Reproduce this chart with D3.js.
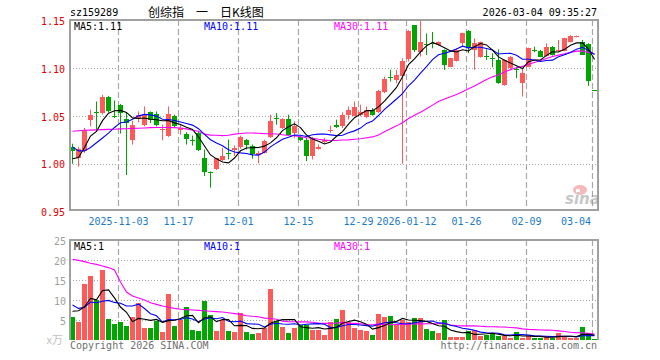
<!DOCTYPE html>
<html>
<head>
<meta charset="utf-8">
<script src="https://cdn.jsdelivr.net/npm/d3@7/dist/d3.min.js"></script>
<style>
body { margin: 0; background: #fff; }
svg text { font-family: "DejaVu Sans Mono", "Liberation Mono", monospace; font-size: 10px; }
</style>
</head>
<body>
<svg id="chart" width="660" height="360"></svg>
<script>

// trading days shown on the chart
var dates = [
  '2025-10-22','2025-10-23','2025-10-24','2025-10-27','2025-10-28','2025-10-29','2025-10-30','2025-10-31',
  '2025-11-03','2025-11-04','2025-11-05','2025-11-06','2025-11-07','2025-11-10','2025-11-11','2025-11-12',
  '2025-11-13','2025-11-14','2025-11-17','2025-11-18','2025-11-19','2025-11-20','2025-11-21','2025-11-24',
  '2025-11-25','2025-11-26','2025-11-27','2025-11-28','2025-12-01','2025-12-02','2025-12-03','2025-12-04',
  '2025-12-05','2025-12-08','2025-12-09','2025-12-10','2025-12-11','2025-12-12','2025-12-15','2025-12-16',
  '2025-12-17','2025-12-18','2025-12-19','2025-12-22','2025-12-23','2025-12-24','2025-12-25','2025-12-26',
  '2025-12-29','2025-12-30','2025-12-31','2026-01-05','2026-01-06','2026-01-07','2026-01-08','2026-01-09',
  '2026-01-12','2026-01-13','2026-01-14','2026-01-15','2026-01-16','2026-01-19','2026-01-20','2026-01-21',
  '2026-01-22','2026-01-23','2026-01-26','2026-01-27','2026-01-28','2026-01-29','2026-01-30','2026-02-02',
  '2026-02-03','2026-02-04','2026-02-05','2026-02-06','2026-02-09','2026-02-10','2026-02-11','2026-02-12',
  '2026-02-13','2026-02-24','2026-02-25','2026-02-26','2026-02-27','2026-03-02','2026-03-03','2026-03-04'
];

var opens = [
  1.018,1.0056,1.0132,1.0462,1.0538,1.0531,1.0697,1.0496,1.0618,1.0468,
  1.0253,1.0468,1.0409,1.0541,1.0524,1.0354,1.0288,1.0503,1.035,1.0316,
  1.0253,1.0323,1.0056,0.9913,0.9948,1.0038,1.0108,1.0149,1.0177,1.0253,
  1.0191,1.0087,1.0115,1.0281,1.0475,1.0375,1.0472,1.0323,1.0281,1.0253,
  1.008,1.0156,1.0226,1.034,1.0409,1.0392,1.0514,1.0503,1.0513,1.0489,
  1.0566,1.054,1.0756,1.091,1.0878,1.0923,1.1094,1.145,1.1174,1.1251,
  1.1268,1.1244,1.1191,1.1017,1.108,1.1268,1.1393,1.1191,1.1122,1.1126,
  1.1108,1.1087,1.0826,1.100,1.099,1.085,1.1017,1.1188,1.1184,1.1129,
  1.1226,1.1188,1.1184,1.1278,1.133,1.1278,1.1254,1.077
];
var highs = [
  1.021,1.0177,1.0375,1.0566,1.0652,1.0722,1.0711,1.0663,1.0625,1.0531,
  1.0451,1.0548,1.060,1.0548,1.0548,1.0409,1.060,1.0514,1.0409,1.033,
  1.0295,1.034,1.0149,0.992,1.0062,1.0167,1.0253,1.0191,1.0295,1.026,
  1.0201,1.0132,1.0253,1.0514,1.0531,1.0479,1.0514,1.0444,1.0295,1.0271,
  1.0281,1.0201,1.0271,1.0399,1.0462,1.0538,1.060,1.0652,1.0618,1.06,
  1.0583,1.0774,1.0913,1.0983,1.0983,1.1104,1.140,1.1452,1.150,1.1365,
  1.138,1.128,1.1198,1.1111,1.1209,1.1372,1.140,1.1313,1.128,1.1198,
  1.1157,1.1198,1.1094,1.1129,1.1017,1.100,1.1216,1.1226,1.1191,1.1261,
  1.1233,1.1296,1.132,1.1348,1.1341,1.1296,1.1261,1.077
];
var lows = [
  1.000,0.9969,1.0115,1.0392,1.034,1.0514,1.0538,1.0479,1.0316,0.9882,
  1.0201,1.0434,1.0392,1.0427,1.0392,1.0246,1.0281,1.0375,1.0305,1.0201,
  1.0191,1.0132,0.9872,0.975,0.9934,1.0028,1.0045,1.008,1.0156,1.0149,
  1.0052,1.0003,1.0108,1.0271,1.0409,1.0364,1.0295,1.0271,1.0236,1.0028,
  1.0045,1.0149,1.0212,1.0323,1.0375,1.0375,1.0462,1.0496,1.0496,1.0479,
  1.0503,1.053,1.0739,1.0861,1.0843,1.000,1.107,1.117,1.1122,1.1139,
  1.121,1.1236,1.0983,1.101,1.107,1.1226,1.1157,1.0983,1.111,1.1087,
  1.101,1.0836,1.0816,1.099,1.0896,1.0704,1.101,1.1167,1.1115,1.1122,
  1.1132,1.1174,1.1177,1.1271,1.1324,1.1163,1.0816,1.0763
];
var closes = [
  1.0133,1.0156,1.0357,1.0514,1.0531,1.0697,1.0548,1.0486,1.0531,1.0427,
  1.0409,1.0514,1.0514,1.0462,1.0402,1.0361,1.0524,1.0392,1.0375,1.026,
  1.0243,1.0142,0.9913,0.9903,1.0056,1.008,1.0097,1.0163,1.0281,1.0201,
  1.0097,1.0108,1.0236,1.0451,1.0468,1.0472,1.0305,1.0392,1.0253,1.008,
  1.0271,1.0177,1.0253,1.0357,1.0382,1.0514,1.0566,1.059,1.0545,1.0566,
  1.0514,1.0763,1.0889,1.090,1.093,1.1077,1.1393,1.1188,1.1271,1.1244,
  1.1255,1.127,1.1035,1.1104,1.1191,1.1365,1.1209,1.1261,1.1271,1.1115,
  1.1098,1.085,1.1087,1.1122,1.0979,1.0948,1.1209,1.1177,1.1122,1.1219,
  1.1139,1.1195,1.1313,1.1341,1.1338,1.114,1.0871,1.0765
];

// volume, x万
var volumes = [
  5.75,4.5,13.9,16,10,17.5,5.2,4,4.5,3.5,
  5.75,9.25,3,3,4.75,2,11.5,3.5,5,8.25,
  2.5,2.25,9.75,6.25,2.25,5,2.25,2,6.75,2,
  1.5,1.75,3,12.75,4.75,3.25,1.75,3,3.75,3.75,
  2.5,2.5,1.25,4.5,5.25,7.5,4.6,3,2.5,2.25,
  1.25,6.5,5.75,6,3.75,5,4.5,5.5,5.5,2.75,
  2.25,1.75,5,0.75,0.75,0.75,2.25,2.5,1,1.25,
  1.5,1,1,0.5,2,0.5,1,0.5,0.5,1,
  0.5,1.75,1,0.5,0.5,3.25,1.75,0.25
];

// moving-average values before enough days are on the chart
var ma5Lead = [1.0052,1.0065,1.017,1.029];
var ma10Lead = [1.0177,1.0135,1.0135,1.017,1.022,1.027,1.032,1.038,1.043];
var ma30Lead = [1.0340,1.0345,1.0350,1.0352,1.0355,1.0357,1.0360,1.0362,1.0365,1.0367,
  1.0370,1.0372,1.0375,1.0378,1.0380,1.0380,1.0380,1.0378,1.0375,1.0365,
  1.0350,1.0340,1.0310,1.0300,1.0298,1.0295,1.0298,1.0310,1.0316];
var vma5Lead = [7.2,7.3,8.3,10.4];
var vma10Lead = [8.75,7.9,8.2,9.5,9.3,9.7,9.9,9.4,9.2];
var vma30Lead = [20.2,19.9,19.6,19.2,18.9,18.5,18.1,17.5,14.5,12.0,
  11.0,10.5,10.0,9.3,8.9,8.5,8.2,7.9,7.7,7.6,
  7.5,7.4,7.3,7.2,7.1,7.0,6.8,6.6,6.4];

// legend readouts as printed on the chart
var priceLegend = ['MA5:1.11', 'MA10:1.11', 'MA30:1.11'];
var volLegend = ['MA5:1', 'MA10:1', 'MA30:1'];

var priceTicks = [0.95, 1.00, 1.05, 1.10, 1.15];
var volTicks = [5, 10, 15, 20, 25];
var dateTicks = ['2025-11-03','2025-11-17','2025-12-01','2025-12-15','2025-12-29','2026-01-12','2026-01-26','2026-02-09','2026-03-04'];
var dateTickLabels = ['2025-11-03','11-17','12-01','12-15','12-29','2026-01-12','01-26','02-09','03-04'];

var RED = '#ff5a5a', GREEN = '#00a600', GRID = '#a8a8a8', BORDER = '#a0a0a0';
var MA_COLORS = ['#000000', '#0000ff', '#ff00ff'];

function movingAvg(arr, n, lead) {
  return arr.map(function(v, i) {
    if (i < n - 1) return lead[i];
    return d3.mean(arr.slice(i - n + 1, i + 1));
  });
}

var svg = d3.select('#chart');
var L = 70, R = 598;
var x = d3.scaleBand().domain(dates).range([L, R]);
var y = d3.scaleLinear().domain([0.95, 1.15]).range([211.5, 20.5]);
var yv = d3.scaleLinear().domain([0, 25]).range([340, 240]);

var ma5 = movingAvg(closes, 5, ma5Lead),
    ma10 = movingAvg(closes, 10, ma10Lead),
    ma30 = movingAvg(closes, 30, ma30Lead);
var vma5 = movingAvg(volumes, 5, vma5Lead),
    vma10 = movingAvg(volumes, 10, vma10Lead),
    vma30 = movingAvg(volumes, 30, vma30Lead);

function crisp(v) { return Math.round(v) + 0.5; }

// ---- grid
function vGrid(top, bottom) {
  svg.append('g').selectAll('line').data(dateTicks).enter().append('line')
    .attr('x1', function(d) { return crisp(x(d)); })
    .attr('x2', function(d) { return crisp(x(d)); })
    .attr('y1', top).attr('y2', bottom)
    .attr('stroke', GRID).attr('stroke-width', 1.2)
    .attr('stroke-dasharray', '6,3');
}
function hGrid(scale, ticks) {
  svg.append('g').selectAll('line').data(ticks).enter().append('line')
    .attr('x1', L).attr('x2', R)
    .attr('y1', function(d) { return crisp(scale(d)); })
    .attr('y2', function(d) { return crisp(scale(d)); })
    .attr('stroke', GRID).attr('stroke-dasharray', '1,2');
}
vGrid(20, 210);
hGrid(y, [1.00, 1.05, 1.10]);
vGrid(240, 340);
hGrid(yv, [5, 10, 15, 20]);

// ---- candles
var idx = d3.range(dates.length);
function colorOf(i) { return closes[i] >= opens[i] ? RED : GREEN; }

var cg = svg.append('g');
cg.selectAll('line').data(idx).enter().append('line')
  .attr('x1', function(i) { return x(dates[i]) + 2.5; })
  .attr('x2', function(i) { return x(dates[i]) + 2.5; })
  .attr('y1', function(i) { return y(highs[i]); })
  .attr('y2', function(i) { return y(lows[i]); })
  .attr('stroke', colorOf).attr('stroke-width', 1);
cg.selectAll('rect').data(idx).enter().append('rect')
  .attr('shape-rendering', 'crispEdges')
  .attr('x', function(i) { return x(dates[i]); })
  .attr('width', 5)
  .attr('y', function(i) { return y(Math.max(opens[i], closes[i])); })
  .attr('height', function(i) { return Math.max(1, Math.abs(y(opens[i]) - y(closes[i]))); })
  .attr('fill', colorOf);

// ---- volume bars
svg.append('g').selectAll('rect').data(idx).enter().append('rect')
  .attr('shape-rendering', 'crispEdges')
  .attr('x', function(i) { return x(dates[i]); })
  .attr('width', 5)
  .attr('y', function(i) { return yv(volumes[i]); })
  .attr('height', function(i) { return yv(0) - yv(volumes[i]); })
  .attr('fill', colorOf);

// ---- moving averages
function maLine(values, scale, color) {
  var line = d3.line()
    .x(function(d, i) { return x(dates[i]) + 2.5; })
    .y(function(d) { return scale(d); });
  svg.append('path').datum(values)
    .attr('d', line).attr('fill', 'none')
    .attr('stroke', color).attr('stroke-width', 1.1);
}
maLine(ma30, y, MA_COLORS[2]);
maLine(ma10, y, MA_COLORS[1]);
maLine(ma5, y, MA_COLORS[0]);
maLine(vma30, yv, MA_COLORS[2]);
maLine(vma10, yv, MA_COLORS[1]);
maLine(vma5, yv, MA_COLORS[0]);

// ---- frames
svg.append('rect').attr('x', L).attr('y', 20).attr('width', R - L).attr('height', 190)
  .attr('fill', 'none').attr('stroke', BORDER).attr('stroke-width', 2);
svg.append('path').attr('d', 'M' + L + ',340V240H' + R + 'V340')
  .attr('fill', 'none').attr('stroke', BORDER).attr('stroke-width', 2);

// ---- axes
var pAxis = svg.append('g').attr('transform', 'translate(' + (L - 1) + ',0)')
  .call(d3.axisLeft(y).tickValues(priceTicks).tickFormat(d3.format('.2f')).tickSize(0).tickPadding(4));
pAxis.select('.domain').remove();
pAxis.selectAll('text').attr('fill', '#e00000').attr('font-size', 10).attr('dy', '0.4em')
  .style('font-family', '"DejaVu Sans Mono", monospace');

var vAxis = svg.append('g').attr('transform', 'translate(' + (L - 1) + ',0)')
  .call(d3.axisLeft(yv).tickValues(volTicks).tickFormat(d3.format('d')).tickSize(0).tickPadding(3));
vAxis.select('.domain').remove();
vAxis.selectAll('text').attr('fill', '#a0a0a0').attr('font-size', 11).attr('dy', '0.4em')
  .style('font-family', '"DejaVu Sans Mono", monospace');

svg.append('g').selectAll('text').data(dateTicks).enter().append('text')
  .attr('x', function(d, i) { return i === dateTicks.length - 1 ? R - 7 : crisp(x(d)); })
  .attr('y', 225)
  .attr('text-anchor', function(d, i) { return i === dateTicks.length - 1 ? 'end' : 'middle'; })
  .attr('fill', '#1a7cc9')
  .text(function(d, i) { return dateTickLabels[i]; });

// ---- header and legends
svg.append('text').attr('x', 70).attr('y', 16).text('sz159289');
svg.append('text').attr('x', 206).attr('y', 17).attr('text-anchor', 'middle')
  .style('font-family', '"Noto Sans CJK SC", sans-serif').style('font-size', '12px')
  .text('创综指\u3000一\u3000日K线图');
svg.append('text').attr('x', 597).attr('y', 16).attr('text-anchor', 'end').text('2026-03-04 09:35:27');

function legend(yPos, labels) {
  var xs = [74, 204, 334];
  labels.forEach(function(t, k) {
    svg.append('text').attr('x', xs[k]).attr('y', yPos).attr('fill', MA_COLORS[k]).text(t);
  });
}
legend(30, priceLegend);
legend(250, volLegend);

svg.append('text').attr('x', 63).attr('y', 344).attr('text-anchor', 'end').attr('fill', '#c0c0c0')
  .style('font-family', '"Noto Sans CJK SC", sans-serif').style('font-size', '11px').text('x万');
svg.append('text').attr('x', 70).attr('y', 349).attr('fill', '#707070').text('Copyright 2026 SINA.COM');
svg.append('text').attr('x', 597).attr('y', 349).attr('text-anchor', 'end').attr('fill', '#707070').text('http://finance.sina.com.cn');

// watermark
var wm = svg.append('g').attr('opacity', 0.55);
wm.append('ellipse').attr('cx', 580).attr('cy', 190).attr('rx', 7).attr('ry', 5).attr('fill', '#f08080');
wm.append('circle').attr('cx', 578).attr('cy', 191).attr('r', 2.2).attr('fill', '#fff');
wm.append('text').attr('x', 565).attr('y', 204)
  .style('font-family', '"DejaVu Sans", sans-serif').style('font-size', '15px')
  .style('font-weight', 'bold').style('font-style', 'italic').attr('fill', '#999').text('sina');
</script>
</body>
</html>
